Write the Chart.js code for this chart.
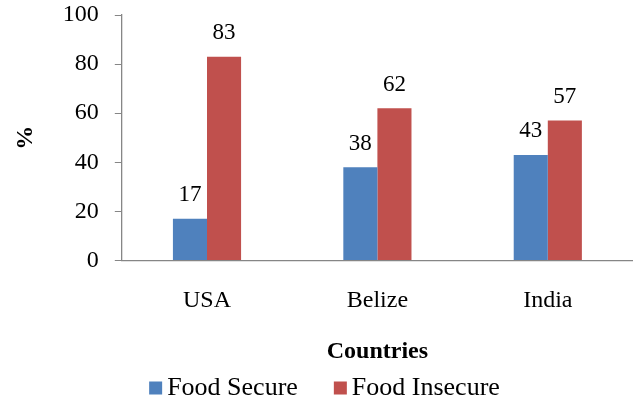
<!DOCTYPE html>
<html>
<head>
<meta charset="utf-8">
<script src="https://cdn.jsdelivr.net/npm/chart.js@4/dist/chart.umd.min.js"></script>
<style>
  html, body { margin: 0; padding: 0; background: #fff; }
  #wrap { width: 633px; height: 404px; position: relative; }
</style>
</head>
<body>
<div id="wrap"><canvas id="chart"></canvas></div>
<script>
// Data
const countries = ['USA', 'Belize', 'India'];
const foodSecure = [17, 38, 43];
const foodInsecure = [83, 62, 57];
const yTicks = [0, 20, 40, 60, 80, 100];

const serif = "'Liberation Serif', 'Times New Roman', serif";
const axisGray = '#868686';

// Draw value labels above each bar
const valueLabels = {
  id: 'valueLabels',
  afterDatasetsDraw(chart) {
    const { ctx } = chart;
    ctx.save();
    ctx.font = `23px ${serif}`;
    ctx.fillStyle = '#000';
    ctx.textAlign = 'center';
    ctx.textBaseline = 'bottom';
    chart.data.datasets.forEach((ds, di) => {
      chart.getDatasetMeta(di).data.forEach((bar, i) => {
        ctx.fillText(String(ds.data[i]), bar.x, bar.y - 12);
      });
    });
    ctx.restore();
  },
};

// Legend drawn by hand so the box/text gaps match the original
const bottomLegend = {
  id: 'bottomLegend',
  afterDraw(chart) {
    const { ctx } = chart;
    const box = 13;
    const gapText = 5;
    const gapItem = 36;
    ctx.save();
    ctx.font = `26px ${serif}`;
    ctx.textBaseline = 'middle';
    ctx.textAlign = 'left';
    const items = chart.data.datasets.map((ds) => ({
      text: ds.label,
      color: ds.backgroundColor,
      w: box + gapText + ctx.measureText(ds.label).width,
    }));
    const total = items.reduce((s, it) => s + it.w, 0) + gapItem * (items.length - 1);
    let x = chart.width / 2 + 8 - total / 2;
    const y = chart.height - 16;
    items.forEach((it) => {
      ctx.fillStyle = it.color;
      ctx.fillRect(x, y - box / 2, box, box);
      ctx.fillStyle = '#000';
      ctx.fillText(it.text, x + box + gapText, y);
      x += it.w + gapItem;
    });
    ctx.restore();
  },
};

new Chart(document.getElementById('chart'), {
  type: 'bar',
  data: {
    labels: countries,
    datasets: [
      {
        label: 'Food Secure',
        data: foodSecure,
        backgroundColor: '#4F81BD',
        categoryPercentage: 0.4,
        barPercentage: 1,
      },
      {
        label: 'Food Insecure',
        data: foodInsecure,
        backgroundColor: '#C0504D',
        categoryPercentage: 0.4,
        barPercentage: 1,
      },
    ],
  },
  options: {
    responsive: true,
    maintainAspectRatio: false,
    animation: false,
    devicePixelRatio: 1,
    layout: { padding: { top: 0, right: 0, left: 0, bottom: 38 } },
    scales: {
      x: {
        grid: { display: false, drawTicks: false },
        border: { color: axisGray, width: 1.3 },
        ticks: { color: '#000', font: { family: serif, size: 24 }, padding: 26 },
        title: {
          display: true,
          text: 'Countries',
          color: '#000',
          font: { family: serif, size: 24, weight: 'bold' },
          padding: { top: -4, bottom: 0 },
        },
      },
      y: {
        min: 0,
        max: 100,
        afterBuildTicks(axis) {
          axis.ticks = yTicks.map((v) => ({ value: v }));
        },
        // tick padding is also added above the top label; keep only half a label of room
        afterFit(axis) {
          axis.paddingTop = 15;
        },
        grid: { drawOnChartArea: false, drawTicks: true, tickLength: 7, color: axisGray },
        border: { color: axisGray, width: 1.3 },
        ticks: { color: '#000', font: { family: serif, size: 24 }, padding: 16 },
        title: {
          display: true,
          text: '%',
          color: '#000',
          font: { family: serif, size: 24, weight: 'bold' },
          padding: { top: 11, bottom: 7 },
        },
      },
    },
    plugins: {
      legend: { display: false },
      tooltip: { enabled: false },
    },
  },
  plugins: [valueLabels, bottomLegend],
});
</script>
</body>
</html>
